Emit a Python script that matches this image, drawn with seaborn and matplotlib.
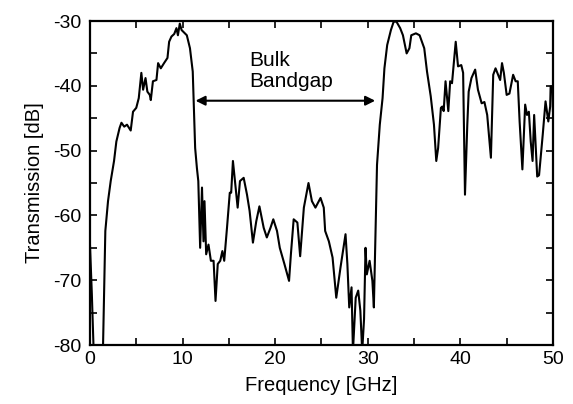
import numpy as np
import pandas as pd
import matplotlib
matplotlib.use('Agg')
import matplotlib.pyplot as plt
from matplotlib.ticker import MultipleLocator
import seaborn as sns

# Transmission spectrum
freq_ghz = [
	0.0, 0.2, 0.4, 1.4, 1.66, 1.95, 2.24, 2.6, 2.85, 3.2,
	3.4, 3.7, 4.0, 4.4, 4.65, 5.0, 5.27, 5.55, 5.74, 6.0,
	6.2, 6.46, 6.57, 6.8, 7.18, 7.36, 7.65, 8.0, 8.37, 8.55,
	8.8, 9.1, 9.34, 9.5, 9.7, 9.9, 10.25, 10.46, 10.8, 11.1,
	11.25, 11.36, 11.55, 11.7, 11.9, 12.1, 12.26, 12.37, 12.55, 12.8,
	13.06, 13.35, 13.56, 13.8, 14.07, 14.3, 14.5, 14.8, 15.1, 15.25,
	15.44, 15.7, 15.95, 16.2, 16.6, 16.96, 17.24, 17.6, 17.96, 18.3,
	18.76, 19.1, 19.5, 19.8, 20.2, 20.5, 20.7, 21.0, 21.5, 21.7,
	22.0, 22.4, 22.7, 23.1, 23.6, 23.97, 24.35, 24.9, 25.25, 25.4,
	25.8, 26.2, 26.6, 27.06, 27.6, 27.8, 28.0, 28.25, 28.4, 28.7,
	28.97, 29.2, 29.4, 29.6, 29.76, 29.9, 30.2, 30.5, 30.66, 30.85,
	31.0, 31.3, 31.6, 31.8, 32.1, 32.5, 32.8, 33.1, 33.5, 33.8,
	34.2, 34.5, 34.7, 35.2, 35.6, 36.1, 36.4, 36.8, 37.15, 37.4,
	37.6, 37.9, 38.05, 38.2, 38.4, 38.7, 38.9, 39.1, 39.5, 39.75,
	40.1, 40.3, 40.5, 40.75, 40.9, 41.2, 41.6, 41.9, 42.3, 42.6,
	42.9, 43.3, 43.55, 43.8, 44.3, 44.5, 44.7, 45.0, 45.3, 45.7,
	45.97, 46.2, 46.4, 46.7, 47.0, 47.2, 47.4, 47.6, 47.8, 47.97,
	48.3, 48.5, 48.9, 49.2, 49.5, 49.7, 49.75, 49.95, 50.0,
]
transmission_db = [
	-64.5, -72.0, -81.0, -81.0, -62.4, -57.8, -54.7, -51.6, -48.6, -46.5,
	-45.7, -46.3, -46.0, -46.9, -44.0, -43.4, -41.9, -38.0, -40.6, -38.8,
	-40.9, -41.4, -42.2, -39.3, -39.1, -36.5, -37.3, -36.5, -35.7, -33.2,
	-32.4, -32.0, -31.1, -32.2, -30.4, -31.4, -31.9, -32.2, -34.2, -37.8,
	-44.5, -49.6, -52.7, -54.7, -65.0, -55.7, -64.0, -57.8, -66.0, -64.5,
	-67.0, -67.0, -73.2, -67.5, -67.0, -65.5, -67.0, -61.9, -56.5, -56.5,
	-51.6, -55.2, -58.8, -54.7, -54.2, -56.8, -59.3, -64.2, -60.9, -58.6,
	-61.9, -63.4, -61.9, -60.6, -62.4, -65.0, -66.0, -67.5, -70.1, -66.0,
	-60.6, -61.1, -66.3, -58.8, -55.0, -57.8, -58.8, -57.3, -58.8, -62.4,
	-64.0, -66.5, -72.7, -68.0, -62.9, -67.5, -74.2, -71.1, -81.0, -72.7,
	-71.6, -74.7, -81.0, -76.0, -65.0, -69.1, -67.0, -70.1, -74.2, -62.0,
	-52.2, -46.0, -41.9, -37.3, -33.7, -31.4, -30.1, -30.1, -31.1, -32.2,
	-35.0, -34.2, -32.2, -31.9, -32.2, -34.2, -37.8, -41.6, -46.0, -51.6,
	-49.6, -43.4, -43.2, -43.9, -39.3, -43.9, -39.3, -39.6, -33.2, -37.0,
	-36.8, -38.0, -56.8, -46.0, -40.9, -38.8, -37.5, -40.6, -42.7, -42.5,
	-44.5, -51.1, -38.3, -37.3, -39.1, -36.5, -38.0, -41.4, -41.2, -38.3,
	-39.3, -39.3, -45.5, -52.9, -42.9, -44.5, -44.0, -48.6, -51.6, -44.5,
	-54.0, -53.8, -47.5, -42.4, -45.5, -43.2, -40.1, -40.1, -44.0,
]

x_ticks = [0, 10, 20, 30, 40, 50]
y_ticks = [-80, -70, -60, -50, -40, -30]

# bandgap arrow ends and label
gap_lo, gap_hi, gap_level = 11.4, 30.8, -42.3

df = pd.DataFrame({'Frequency': freq_ghz, 'Transmission': transmission_db})

sns.set_style('ticks')
plt.rcParams['font.family'] = ['Liberation Sans', 'DejaVu Sans']
plt.rcParams['axes.unicode_minus'] = False
plt.rcParams['text.color'] = 'black'
plt.rcParams['axes.labelcolor'] = 'black'

fig = plt.figure(figsize=(5.73, 4.04), dpi=100)
ax = fig.add_axes([0.157, 0.146, 0.808, 0.802])

sns.lineplot(data=df, x='Frequency', y='Transmission', sort=False,
	estimator=None, color='black', linewidth=1.5, ax=ax)

ax.set_xlim(0, 50)
ax.set_ylim(-80, -30)
ax.set_xticks(x_ticks)
ax.set_yticks(y_ticks)
ax.xaxis.set_minor_locator(MultipleLocator(5))
ax.yaxis.set_minor_locator(MultipleLocator(5))
ax.tick_params(which='both', direction='in', top=True, right=True,
	length=5, width=1.2, labelsize=14, colors='black')
ax.tick_params(axis='x', pad=4)
ax.tick_params(axis='y', pad=6)
for sp in ax.spines.values():
	sp.set_linewidth(1.6)
	sp.set_color('black')

ax.set_xlabel('Frequency [GHz]', fontsize=14.5, labelpad=6, color='black')
ax.set_ylabel('Transmission [dB]', fontsize=14.5, labelpad=7, color='black')

ax.annotate('', xy=(gap_lo, gap_level), xytext=(gap_hi, gap_level),
	arrowprops=dict(arrowstyle='<|-|>', color='black', lw=1.5,
		mutation_scale=14, shrinkA=0, shrinkB=0))
ax.text(17.2, -34.6, 'Bulk\nBandgap', fontsize=15, ha='left', va='top',
	linespacing=1.15, color='black')

fig.savefig('out.png', dpi=100)
